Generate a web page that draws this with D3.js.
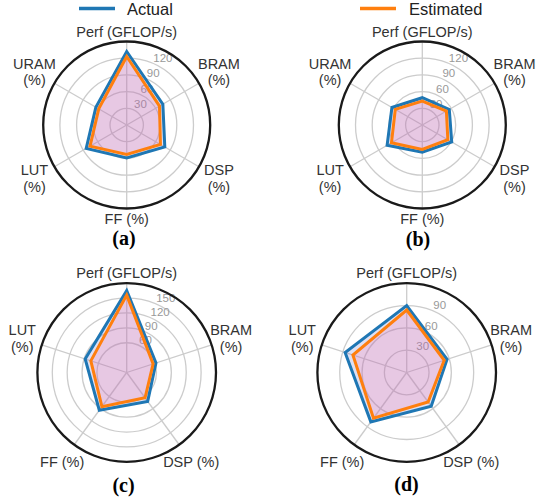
<!DOCTYPE html>
<html>
<head>
<meta charset="utf-8">
<script src="https://cdn.jsdelivr.net/npm/d3@7"></script>
<style>
  html, body { margin: 0; padding: 0; background: #fff; }
  svg { display: block; }
</style>
</head>
<body>
<svg id="chart" width="543" height="497"></svg>
<script>
// ---------------- DATA ----------------
const labels6 = ["Perf (GFLOP/s)", "BRAM\n(%)", "DSP\n(%)", "FF (%)", "LUT\n(%)", "URAM\n(%)"];
const labels5 = ["Perf (GFLOP/s)", "BRAM\n(%)", "DSP (%)", "FF (%)", "LUT\n(%)"];
const seriesNames = ["Actual", "Estimated"];

const actualA    = [132, 75, 79, 59, 84, 64];
const estimatedA = [123, 68, 70, 53, 76, 58];
const actualB    = [49, 56, 61, 49, 73, 63];
const estimatedB = [43, 50, 53, 44, 64, 56];
const actualC    = [165, 62, 72, 94, 88];
const estimatedC = [156, 56, 63, 85, 76];
const actualD    = [90, 57, 56, 82, 87];
const estimatedD = [84, 53, 49, 76, 76];

const ticksA = [30, 60, 90, 120];
const ticksB = [30, 60, 90, 120];
const ticksC = [60, 90, 120, 150];
const ticksD = [30, 60, 90];

const maxA = 150, maxB = 150, maxC = 180, maxD = 120;
const titles = ["(a)", "(b)", "(c)", "(d)"];

// ---------------- LAYOUT ----------------
const panels = [
  {labels: labels6, act: actualA, est: estimatedA, ticks: ticksA, max: maxA, title: titles[0],
   cx: 126.7, cy: 125, R: 83.5, padV: 10, padS: 23, tx: 124, ty: 238},
  {labels: labels6, act: actualB, est: estimatedB, ticks: ticksB, max: maxB, title: titles[1],
   cx: 422.3, cy: 125, R: 83.5, padV: 10, padS: 23, tx: 418, ty: 239},
  {labels: labels5, act: actualC, est: estimatedC, ticks: ticksC, max: maxC, title: titles[2],
   cx: 126.7, cy: 372.5, R: 89.3, padV: 10, padS: 20.5, tx: 123.5, ty: 485},
  {labels: labels5, act: actualD, est: estimatedD, ticks: ticksD, max: maxD, title: titles[3],
   cx: 406.7, cy: 372.5, R: 89.3, padV: 10, padS: 20.5, tx: 406.5, ty: 484}
];

const BLUE = "#1f77b4", ORANGE = "#ff7f0e";
const GRID = "#cccccc";
const FONT = "'Liberation Sans', Arial, sans-serif";

const svg = d3.select("#chart");

panels.forEach(p => {
  const n = p.labels.length;
  const r = d3.scaleLinear().domain([0, p.max]).range([0, p.R]);
  const ang = d3.scaleLinear().domain([0, n]).range([0, 2 * Math.PI]);
  const g = svg.append("g").attr("transform", `translate(${p.cx},${p.cy})`);

  // grid rings
  g.selectAll("circle.ring").data(p.ticks).join("circle")
    .attr("class", "ring").attr("r", d => r(d))
    .attr("fill", "none").attr("stroke", GRID).attr("stroke-width", 1.3);

  // spokes
  g.selectAll("line.spoke").data(d3.range(n)).join("line")
    .attr("class", "spoke")
    .attr("x1", 0).attr("y1", 0)
    .attr("x2", i => r(p.max) * Math.sin(ang(i)))
    .attr("y2", i => -r(p.max) * Math.cos(ang(i)))
    .attr("stroke", GRID).attr("stroke-width", 1.3);

  // tick labels
  const la = 22.5 * Math.PI / 180;
  g.selectAll("text.tick").data(p.ticks).join("text")
    .attr("class", "tick")
    .attr("x", d => r(d) * Math.sin(la) + 1)
    .attr("y", d => -r(d) * Math.cos(la) - 1.5)
    .attr("font-family", FONT).attr("font-size", 11.5)
    .attr("fill", "#999999")
    .text(d => d);

  // polygons
  const line = d3.lineRadial()
    .angle((d, i) => ang(i))
    .radius(d => r(d))
    .curve(d3.curveLinearClosed);

  g.append("path").attr("d", line(p.act))
    .attr("fill", "rgba(35,48,182,0.15)")
    .attr("stroke", BLUE).attr("stroke-width", 3).attr("stroke-linejoin", "miter");
  g.append("path").attr("d", line(p.est))
    .attr("fill", "rgba(254,136,180,0.27)")
    .attr("stroke", ORANGE).attr("stroke-width", 3).attr("stroke-linejoin", "miter");

  // outer circle
  g.append("circle").attr("r", r(p.max))
    .attr("fill", "none").attr("stroke", "#1a1a1a").attr("stroke-width", 2.3);

  // category labels
  p.labels.forEach((lab, i) => {
    const a = ang(i);
    const vertical = Math.abs(Math.sin(a)) < 0.01;
    const d = p.R + (vertical ? p.padV : p.padS);
    const x = d * Math.sin(a), y = -d * Math.cos(a);
    const lines = lab.split("\n");
    const lh = 16.7;
    const t = g.append("text")
      .attr("font-family", FONT).attr("font-size", 14.5)
      .attr("fill", "#333333").attr("text-anchor", "middle");
    lines.forEach((ln, k) => {
      t.append("tspan").attr("x", x)
        .attr("y", y + (k - (lines.length - 1) / 2) * lh + 5.2)
        .text(ln);
    });
  });

  // panel title
  svg.append("text").attr("x", p.tx).attr("y", p.ty + 7)
    .attr("text-anchor", "middle")
    .attr("font-family", "'Liberation Serif', 'Times New Roman', serif")
    .attr("font-weight", "bold").attr("font-size", 20)
    .attr("fill", "#000").text(p.title);
});

// legend
const legendItems = [
  {name: seriesNames[0], color: BLUE, x1: 79, x2: 115, tx: 127, y: 8.5},
  {name: seriesNames[1], color: ORANGE, x1: 360, x2: 396, tx: 409, y: 8.5}
];
legendItems.forEach(it => {
  svg.append("line").attr("x1", it.x1).attr("x2", it.x2)
    .attr("y1", it.y).attr("y2", it.y)
    .attr("stroke", it.color).attr("stroke-width", 3.5);
  svg.append("text").attr("x", it.tx).attr("y", it.y + 6)
    .attr("font-family", FONT).attr("font-size", 16.5)
    .attr("fill", "#222").text(it.name);
});
</script>
</body>
</html>
